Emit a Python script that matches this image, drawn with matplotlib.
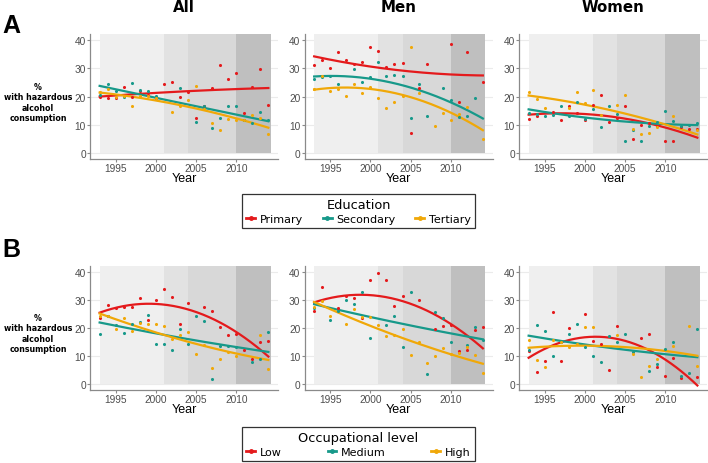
import numpy as np
import matplotlib
matplotlib.use("Agg")
import matplotlib.pyplot as plt
from matplotlib.lines import Line2D

nan = np.nan
years = np.arange(1993, 2015)
periods = [1993, 2001, 2004, 2010, 2014.3]
period_grays = ["#efefef", "#e2e2e2", "#d8d8d8", "#bfbfbf"]

panel_titles = ["All", "Men", "Women"]

# A: education
edu_labels = ["Primary", "Secondary", "Tertiary"]
edu_all_primary = [19.9, 19.4, 19.5, 23.5, 20.0, 22.0, 20.6, 19.5, 24.6, 25.3, 19.8, 21.5, 12.4, 16.5, 23.0, 31.3, 26.3, 28.3, 14.0, 23.2, 29.8, 17.0]
edu_all_secondary = [20.5, 24.4, 22.0, 19.8, 24.7, 22.3, 21.9, 20.3, nan, nan, 23.0, nan, 10.9, 16.5, 9.0, 12.5, 16.7, 16.7, 11.7, 10.6, 14.6, 11.7]
edu_all_tertiary = [21.6, 22.5, 19.7, 20.2, 16.8, 20.2, 20.3, 19.6, nan, 14.6, 16.6, 18.9, 23.6, 15.5, 10.5, 8.1, 11.9, 11.6, 11.8, 13.6, 12.3, 6.8]

edu_men_primary = [31.3, 32.8, 30.2, 35.6, 32.9, 31.4, 32.2, 37.6, 36.2, 30.3, 31.6, 32.0, 7.0, 23.0, 31.4, nan, nan, 38.6, 18.2, 35.9, nan, 25.3]
edu_men_secondary = [26.2, 27.0, 27.2, 24.3, nan, 29.7, 25.2, 26.8, 32.1, 27.4, 27.7, 27.3, 12.4, 24.5, 13.2, nan, 23.0, 18.8, 12.6, 13.2, 19.5, nan]
edu_men_tertiary = [22.5, 27.1, 21.8, 22.8, 20.3, 24.4, 21.2, 23.2, 19.5, 15.8, 18.2, 20.3, 37.7, 21.1, nan, 9.6, 14.3, 11.7, 13.8, 16.4, nan, 5.1]

edu_women_primary = [12.0, 13.2, nan, 14.5, 11.8, 16.6, 14.0, 11.8, 17.1, 20.5, 11.1, 12.3, 16.5, 5.0, 9.9, 10.6, 9.4, 4.3, 4.3, 9.2, 8.5, 8.6]
edu_women_secondary = [14.0, 13.8, 13.0, 13.3, 16.6, 13.0, 18.2, 12.0, 15.6, 9.3, 16.5, 13.8, 4.2, 8.3, 4.2, 9.6, 10.9, 14.7, 11.2, 9.4, 10.0, 10.6]
edu_women_tertiary = [21.5, 19.1, 16.1, nan, nan, 15.8, 21.7, 17.7, 22.4, 13.5, nan, 17.0, 20.6, 8.5, 6.7, 7.0, 9.3, nan, 13.0, nan, nan, 8.1]

# B: occupational level
occ_labels = ["Low", "Medium", "High"]
occ_all_low = [23.5, 28.1, 27.3, 27.5, 27.4, 30.7, 22.9, 30.0, 33.9, 31.2, 21.4, 28.8, nan, 27.5, 26.0, 20.4, 17.5, 17.9, 12.3, 8.8, 14.9, 15.5]
occ_all_medium = [17.7, 24.2, 21.0, 18.3, 21.3, 22.0, 24.6, 14.3, 14.3, 12.3, 19.8, 14.2, 24.4, 22.6, 1.8, 13.7, 13.7, 13.3, nan, 7.7, 9.0, 18.7]
occ_all_high = [24.2, 24.4, 19.8, 23.5, 18.9, 21.7, 21.4, 21.5, 20.8, 16.1, 17.6, 18.7, 10.7, 14.0, 5.7, 8.9, 11.3, 9.9, nan, nan, 17.5, 5.4]

occ_men_low = [26.2, 34.6, nan, 27.0, 31.5, 30.7, 23.6, 37.3, 39.5, 37.0, 28.0, 31.4, nan, 30.1, nan, 19.6, 20.6, 21.0, 11.7, 12.1, 19.4, 20.5]
occ_men_medium = [27.1, nan, 23.0, 26.2, 30.1, 28.6, 33.0, 16.5, nan, 21.0, 24.2, 13.1, 32.9, nan, 3.5, 25.7, 23.6, 15.0, nan, 14.0, 20.5, 15.8]
occ_men_high = [27.6, 29.8, 24.2, nan, 21.4, 26.9, 24.0, 24.0, 21.0, 17.3, 17.6, 19.6, 10.4, 14.9, 7.4, 9.9, 12.7, 10.7, 11.0, 13.1, 10.5, 3.8]

occ_women_low = [11.7, 4.3, 8.1, 25.8, 8.1, 19.9, nan, 24.9, 15.5, 14.3, 5.0, 20.8, nan, nan, 16.5, 18.0, 6.2, 2.9, 9.4, 2.0, nan, 2.4]
occ_women_medium = [12.1, 21.0, 19.0, 10.1, 15.0, 17.9, 21.3, 13.1, 10.1, 7.9, 17.3, 14.9, 17.9, 11.3, nan, 4.5, 7.1, 12.4, 15.1, 3.0, 3.8, 19.6]
occ_women_high = [15.7, 8.7, 6.2, 15.8, 14.9, 13.3, 14.3, 20.5, 20.2, nan, nan, 17.6, nan, 10.7, 2.6, 6.5, 8.9, nan, 13.7, nan, 20.8, 6.5]

colors = ["#e41a1c", "#17998a", "#f0a808"]

W, H = 708, 464


def fx(x):
    return x / W


def fy(y):
    return 1 - y / H


def draw_panel(ax, series):
    ax.set_xlim(1991.8, 2015.2)
    ax.set_ylim(-2, 42)
    for y in [0, 10, 20, 30, 40]:
        ax.axhline(y, color="#ebebeb", lw=0.8, zorder=0)
    for i in range(4):
        ax.axvspan(periods[i], periods[i + 1], ymin=2 / 44, ymax=1,
                   color=period_grays[i], lw=0, zorder=1)
    t = np.linspace(1993, 2014, 200)
    for vals, c in zip(series, colors):
        v = np.array(vals, dtype=float)
        ok = ~np.isnan(v)
        # quadratic trend per group
        coef = np.polyfit(years[ok] - 2003.5, v[ok], 2)
        ax.plot(t, np.polyval(coef, t - 2003.5), color=c, lw=1.6, zorder=3)
        ax.scatter(years[ok], v[ok], s=5, color=c, lw=0, zorder=4)
    ax.set_xticks([1995, 2000, 2005, 2010])
    ax.set_yticks([0, 10, 20, 30, 40])
    for s in ["top", "right"]:
        ax.spines[s].set_visible(False)
    for s in ["left", "bottom"]:
        ax.spines[s].set_color("#8a8a8a")
        ax.spines[s].set_linewidth(0.9)
    ax.tick_params(colors="#8a8a8a", labelcolor="#4d4d4d", labelsize=7.3,
                   length=2, width=0.8, pad=1)
    for lab in ax.get_xticklabels() + ax.get_yticklabels():
        lab.set_family("Liberation Sans")
    ax.set_xlabel("Year", fontsize=9, family="Liberation Sans", labelpad=-0.5)


fig = plt.figure(figsize=(W / 100, H / 100), dpi=100)

lefts = [90, 304.5, 519]
pw = 188
rows = [
    (35.4, 159.6, [
        [edu_all_primary, edu_all_secondary, edu_all_tertiary],
        [edu_men_primary, edu_men_secondary, edu_men_tertiary],
        [edu_women_primary, edu_women_secondary, edu_women_tertiary],
    ]),
    (267.4, 390.6, [
        [occ_all_low, occ_all_medium, occ_all_high],
        [occ_men_low, occ_men_medium, occ_men_high],
        [occ_women_low, occ_women_medium, occ_women_high],
    ]),
]

for top, bottom, panels in rows:
    for left, series in zip(lefts, panels):
        ax = fig.add_axes([fx(left), fy(bottom), pw / W, (bottom - top) / H])
        draw_panel(ax, series)

for left, title in zip(lefts, panel_titles):
    fig.text(fx(left + pw / 2), fy(7), title, ha="center", va="center",
             fontsize=10.8, fontweight="bold")

fig.text(fx(2), fy(26), "A", ha="left", va="center", fontsize=18,
         fontweight="bold", family="Liberation Sans")
fig.text(fx(2), fy(250), "B", ha="left", va="center", fontsize=18,
         fontweight="bold", family="Liberation Sans")

ylab = "%\nwith hazardous\nalcohol\nconsumption"
fig.text(fx(38), fy(103), ylab, ha="center", va="center", fontsize=5.7,
         fontweight="bold", linespacing=1.2)
fig.text(fx(38), fy(334), ylab, ha="center", va="center", fontsize=5.7,
         fontweight="bold", linespacing=1.2)


def add_legend(labels, title, top):
    handles = [Line2D([], [], color=c, lw=2, marker="o", markersize=2.5)
               for c in colors]
    leg = fig.legend(handles, labels, title=title, ncol=3, loc="upper left",
                     bbox_to_anchor=(fx(242), fy(top), 233 / W, 0),
                     mode="expand", fontsize=8, title_fontsize=9.3,
                     handlelength=0.8, handletextpad=0.4, columnspacing=1.5,
                     frameon=True, fancybox=False, edgecolor="black",
                     borderpad=0.4, borderaxespad=0, labelspacing=0.2)
    leg.get_frame().set_linewidth(0.9)
    return leg


add_legend(edu_labels, "Education", 195)
add_legend(occ_labels, "Occupational level", 428)

fig.savefig("out.png", dpi=100)
